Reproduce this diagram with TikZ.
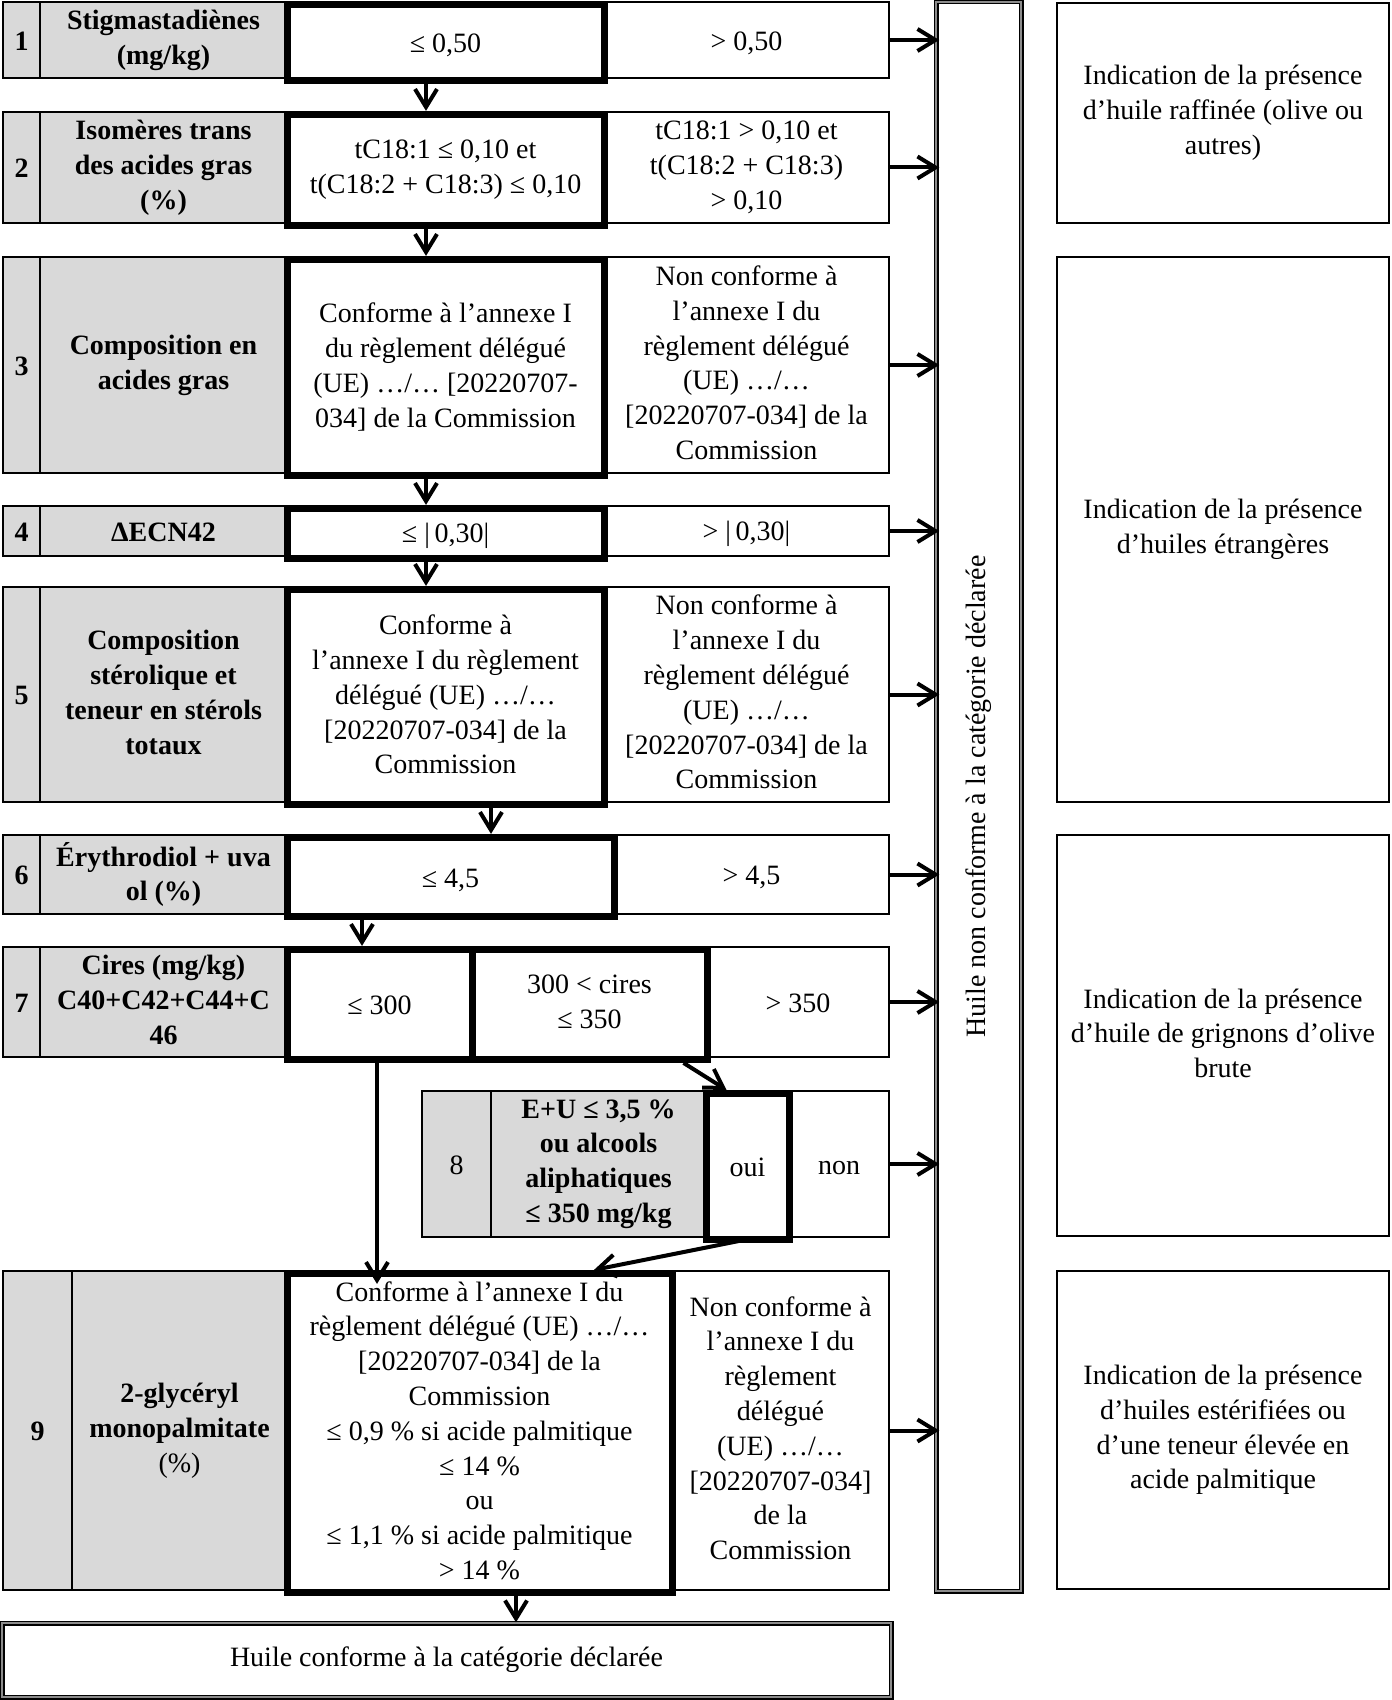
\documentclass[tikz,border=0pt]{standalone}
\usepackage{fontspec}
\setmainfont{Liberation Serif}
\usepackage{graphicx}
\usetikzlibrary{arrows.meta}
\begin{document}
\begin{tikzpicture}[x=0.5pt, y=-0.5pt, font=\fontsize{14}{17.4}\selectfont,
    wh/.style 2 args={minimum width=#1*0.5pt, minimum height=#2*0.5pt},
    cell/.style={draw, line width=1pt, align=center, inner sep=0pt,
        execute at begin node={\rule[-2.4pt]{0pt}{15pt}},
        execute at end node={\rule[-2.4pt]{0pt}{15pt}}},
    grey/.style={cell, fill=black!15, font=\fontsize{14}{17.4}\selectfont\bfseries},
    pass/.style={cell, fill=white, line width=3.5pt, yshift=-1.2pt},
    fail/.style={cell},
    outcome/.style={cell},
    dbl/.style={draw, line width=0.7pt, double=black!45, double distance=1.1pt, align=center, inner sep=0pt},
    flow/.style={-{Straight Barb[length=9pt, width=11pt]}, line width=2pt},
    into/.style={flow, shorten >=-2pt}]
    \useasboundingbox (0,0) rectangle (1391,1700);

    \node[grey, wh={37}{76}]   (n1) at (21.5,40)  {1};
    \node[grey, wh={247}{76}]  (l1) at (163.5,40) {Stigmastadiènes\\(mg/kg)};
    \node[fail, wh={285}{76}]  (f1) at (746.5,40) {> 0,50};
    \node[pass, wh={317}{76}]  (p1) at (445.5,40) {≤ 0,50};

    \node[grey, wh={37}{111}]  (n2) at (21.5,167.5)  {2};
    \node[grey, wh={247}{111}] (l2) at (163.5,167.5) {Isomères trans\\des acides gras\\(\%)};
    \node[fail, wh={285}{111}] (f2) at (746.5,167.5) {tC18:1 > 0,10 et\\t(C18:2 + C18:3)\\> 0,10};
    \node[pass, wh={317}{111}] (p2) at (445.5,167.5) {tC18:1 ≤ 0,10 et\\t(C18:2 + C18:3) ≤ 0,10};

    \node[grey, wh={37}{216}]  (n3) at (21.5,365)  {3};
    \node[grey, wh={247}{216}] (l3) at (163.5,365) {Composition en\\acides gras};
    \node[fail, wh={285}{216}] (f3) at (746.5,365) {Non conforme à\\l’annexe I du\\règlement délégué\\(UE) …/…\\{}[20220707-034] de la\\Commission};
    \node[pass, wh={317}{216}] (p3) at (445.5,365) {Conforme à l’annexe I\\du règlement délégué\\(UE) …/… [20220707-\\034] de la Commission};

    \node[grey, wh={37}{50}]   (n4) at (21.5,531)  {4};
    \node[grey, wh={247}{50}]  (l4) at (163.5,531) {ΔECN42};
    \node[fail, wh={285}{50}]  (f4) at (746.5,531) {> |\,0,30|};
    \node[pass, wh={317}{50}]  (p4) at (445.5,531) {≤ |\,0,30|};

    \node[grey, wh={37}{215}]  (n5) at (21.5,694.5)  {5};
    \node[grey, wh={247}{215}] (l5) at (163.5,694.5) {Composition\\stérolique et\\teneur en stérols\\totaux};
    \node[fail, wh={285}{215}] (f5) at (746.5,694.5) {Non conforme à\\l’annexe I du\\règlement délégué\\(UE) …/…\\{}[20220707-034] de la\\Commission};
    \node[pass, wh={317}{215}] (p5) at (445.5,694.5) {Conforme à\\l’annexe I du règlement\\délégué (UE) …/…\\{}[20220707-034] de la\\Commission};

    \node[grey, wh={37}{79}]   (n6) at (21.5,874.5)  {6};
    \node[grey, wh={247}{79}]  (l6) at (163.5,874.5) {Érythrodiol + uva\\ol (\%)};
    \node[fail, wh={275}{79}]  (f6) at (751.5,874.5) {> 4,5};
    \node[pass, wh={327}{79}]  (p6) at (450.5,874.5) {≤ 4,5};

    \node[grey, wh={37}{110}]  (n7) at (21.5,1002)  {7};
    \node[grey, wh={247}{110}] (l7) at (163.5,1002) {Cires (mg/kg)\\C40+C42+C44+C\\46};
    \node[fail, wh={182}{110}] (f7) at (798,1002)   {> 350};
    \node[pass, wh={185}{110}] (p7) at (379.5,1002) {≤ 300};
    \node[pass, wh={235}{110}] (q7) at (589.5,1002) {300 < cires\\≤ 350};

    \node[grey, wh={69}{146}, font=\fontsize{14}{17.4}\selectfont] (n8) at (456.5,1164) {8};
    \node[grey, wh={215}{146}] (l8) at (598.5,1164) {E+U ≤ 3,5 \%\\ou alcools\\aliphatiques\\≤ 350 mg/kg};
    \node[fail, wh={100}{146}] (f8) at (839,1164)   {non};
    \node[pass, wh={83}{146}]  (p8) at (747.5,1164) {oui};

    \node[grey, wh={69}{319}]  (n9) at (37.5,1430.5)  {9};
    \node[grey, wh={215}{319}] (l9) at (179.5,1430.5) {2-glycéryl\\monopalmitate\\{\mdseries(\%)}};
    \node[fail, wh={217}{319}] (f9) at (780.5,1430.5) {Non conforme à\\l’annexe I du\\règlement\\délégué\\(UE) …/…\\{}[20220707-034]\\de la\\Commission};
    \node[pass, wh={385}{319}] (p9) at (479.5,1430.5) {Conforme à l’annexe I du\\règlement délégué (UE) …/…\\{}[20220707-034] de la\\Commission\\≤ 0,9 \% si acide palmitique\\≤ 14 \%\\ou\\≤ 1,1 \% si acide palmitique\\> 14 \%};

    \node[dbl, wh={889}{74}]  (fin)  at (446.5,1660) {Huile conforme à la catégorie déclarée};
    \node[dbl, wh={85}{1589}] (vbox) at (978.5,796.5) {\rotatebox{90}{Huile non conforme à la catégorie déclarée}};

    \node[outcome, wh={332}{220}] (o1) at (1223,113)    {Indication de la présence\\d’huile raffinée (olive ou\\autres)};
    \node[outcome, wh={332}{545}] (o2) at (1223,529.5)  {Indication de la présence\\d’huiles étrangères};
    \node[outcome, wh={332}{401}] (o3) at (1223,1035.5) {Indication de la présence\\d’huile de grignons d’olive\\brute};
    \node[outcome, wh={332}{318}] (o4) at (1223,1430)   {Indication de la présence\\d’huiles estérifiées ou\\d’une teneur élevée en\\acide palmitique};

    \draw[flow] ([xshift=-9.75pt]p1.south) -- ([xshift=-9.75pt]p1.south |- p2.north);
    \draw[flow] ([xshift=-9.75pt]p2.south) -- ([xshift=-9.75pt]p2.south |- p3.north);
    \draw[flow] ([xshift=-9.75pt]p3.south) -- ([xshift=-9.75pt]p3.south |- p4.north);
    \draw[flow] ([xshift=-9.75pt]p4.south) -- ([xshift=-9.75pt]p4.south |- p5.north);
    \draw[flow] ([xshift=22.75pt]p5.south) -- ([xshift=22.75pt]p5.south |- p6.north);
    \draw[flow] ([xshift=-44.25pt]p6.south) -- ([xshift=-44.25pt]p6.south |- p7.north);
    \draw[flow] ([xshift=-1.25pt]p7.south) -- ([xshift=-1.25pt, yshift=-7pt]p7.south |- p9.north);
    \draw[flow] ([xshift=-13.5pt]q7.south east) -- ([xshift=12pt]p8.north west);
    \draw[flow] ([xshift=1pt, yshift=2pt]p8.south) -- ([xshift=57.25pt]p9.north);
    \draw[flow] ([xshift=18.25pt]p9.south) -- ([xshift=18.25pt]p9.south |- fin.north);

    \draw[into] (f1.east) -- (f1.east -| vbox.west);
    \draw[into] (f2.east) -- (f2.east -| vbox.west);
    \draw[into] (f3.east) -- (f3.east -| vbox.west);
    \draw[into] (f4.east) -- (f4.east -| vbox.west);
    \draw[into] (f5.east) -- (f5.east -| vbox.west);
    \draw[into] (f6.east) -- (f6.east -| vbox.west);
    \draw[into] (f7.east) -- (f7.east -| vbox.west);
    \draw[into] (f8.east) -- (f8.east -| vbox.west);
    \draw[into] (f9.east) -- (f9.east -| vbox.west);
\end{tikzpicture}
\end{document}
